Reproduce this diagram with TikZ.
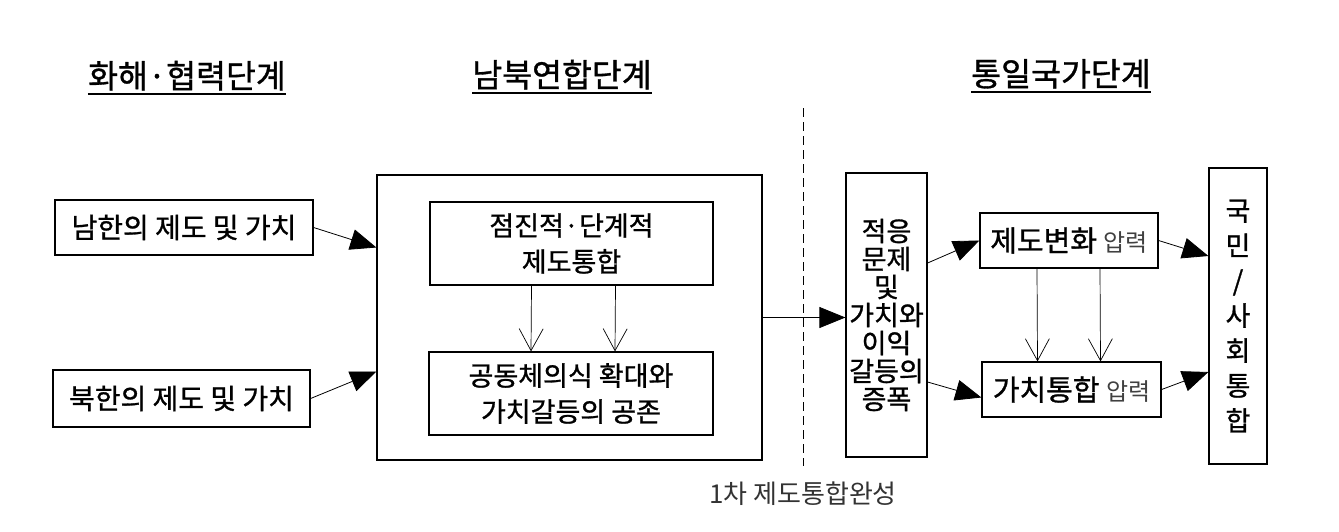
\documentclass[tikz,border=0pt]{standalone}
\usepackage{fontspec}
\setmainfont{Noto Sans CJK KR}[FakeBold=1]
\newfontfamily\thinkr{Noto Sans CJK KR}
\usepackage{tikz}
\usetikzlibrary{arrows.meta, positioning}
\tikzstyle{bigarrow} = [line width=0.8pt, -{Triangle[length=26pt,width=21pt]}]
\tikzstyle{openarrow} = [line width=0.7pt, -{Straight Barb[length=22pt,width=24pt]}]

\begin{document}
\begin{tikzpicture}[
        x=1pt, y=-1pt,
        every node/.style={inner sep=0pt, align=center},
        box/.style={draw, line width=1.2pt},
        head/.style={font=\fontsize{32.5}{32.5}\selectfont, anchor=base},
        label/.style={font=\fontsize{28}{28}\selectfont},
        inner/.style={font=\fontsize{27}{36}\selectfont}
    ]
        \useasboundingbox (0,0) rectangle (1339,531);

        % Stage titles
        \node[head] (reconcile) at (187,88) {화해·협력단계};
        \node[head] (uniontitle) at (562,87) {남북연합단계};
        \node[head] (nationtitle) at (1061,86) {통일국가단계};
        \foreach \t in {reconcile, uniontitle, nationtitle}
            \draw[line width=2pt] ([yshift=-6pt]\t.base west) -- ([yshift=-6pt]\t.base east);

        % Nodes
        \node[box, label, minimum width=258pt, minimum height=55pt] (south) at (184,227.5) {남한의 제도 및 가치};
        \node[box, label, minimum width=257pt, minimum height=57pt] (north) at (181.5,398.5) {북한의 제도 및 가치};
        \node[box, minimum width=385pt, minimum height=285pt] (union) at (569.5,317.5) {};
        \node[box, inner, minimum width=283pt, minimum height=83pt] (gradual) at (571.5,243.5) {점진적·단계적\\제도통합};
        \node[box, inner, minimum width=284pt, minimum height=83pt] (coexist) at (571,393.5) {공동체의식 확대와\\가치갈등의 공존};
        \node[box, font=\fontsize{27}{28}\selectfont, minimum width=81pt, minimum height=284pt] (conflict) at (886.5,315)
            {적응\\문제\\및\\가치와\\이익\\갈등의\\증폭};
        \node[box, font=\fontsize{29}{29}\selectfont, minimum width=178pt, minimum height=55pt] (change) at (1069,240.5)
            {제도변화 {\thinkr\fontsize{24}{24}\selectfont\color{black!75}압력}};
        \node[box, font=\fontsize{29}{29}\selectfont, minimum width=179pt, minimum height=55pt] (valueint) at (1071.5,389.5)
            {가치통합 {\thinkr\fontsize{24}{24}\selectfont\color{black!75}압력}};
        \node[box, font=\fontsize{27}{35}\selectfont, minimum width=58pt, minimum height=296pt] (nation) at (1238,316)
            {국\\민\\/\\사\\회\\통\\합};

        % Divider and milestone
        \coordinate (divtop) at (803,108);
        \coordinate (divbot) at (803,466);
        \draw[line width=0.8pt, dash pattern=on 9pt off 5pt] (divtop) -- (divbot);
        \node[font=\thinkr\fontsize{26}{26}\selectfont, text=black!80] (milestone) at (803,494) {1차 제도통합완성};

        % Arrows
        \draw[bigarrow] (south.east) -- ([yshift=70pt]union.west);
        \draw[bigarrow] (north.east) -- ([yshift=-54pt]union.west);
        \draw[openarrow] ([xshift=-40pt]gradual.south) -- ([xshift=-40pt]coexist.north);
        \draw[openarrow] ([xshift=44pt]gradual.south) -- ([xshift=44pt]coexist.north);
        \draw[bigarrow] (union.east) -- (union.east -| conflict.west);
        \draw[bigarrow] ([yshift=52pt]conflict.east) -- (change.west);
        \draw[bigarrow] ([yshift=-67pt]conflict.east) -- ([yshift=-8pt]valueint.west);
        \draw[openarrow] ([xshift=-32pt]change.south) -- ([xshift=-34pt]valueint.north);
        \draw[openarrow] ([xshift=31pt]change.south) -- ([xshift=29pt]valueint.north);
        \draw[bigarrow] (change.east) -- ([yshift=60pt]nation.west);
        \draw[bigarrow] (valueint.east) -- ([yshift=-56pt]nation.west);
    \end{tikzpicture}
\end{document}
